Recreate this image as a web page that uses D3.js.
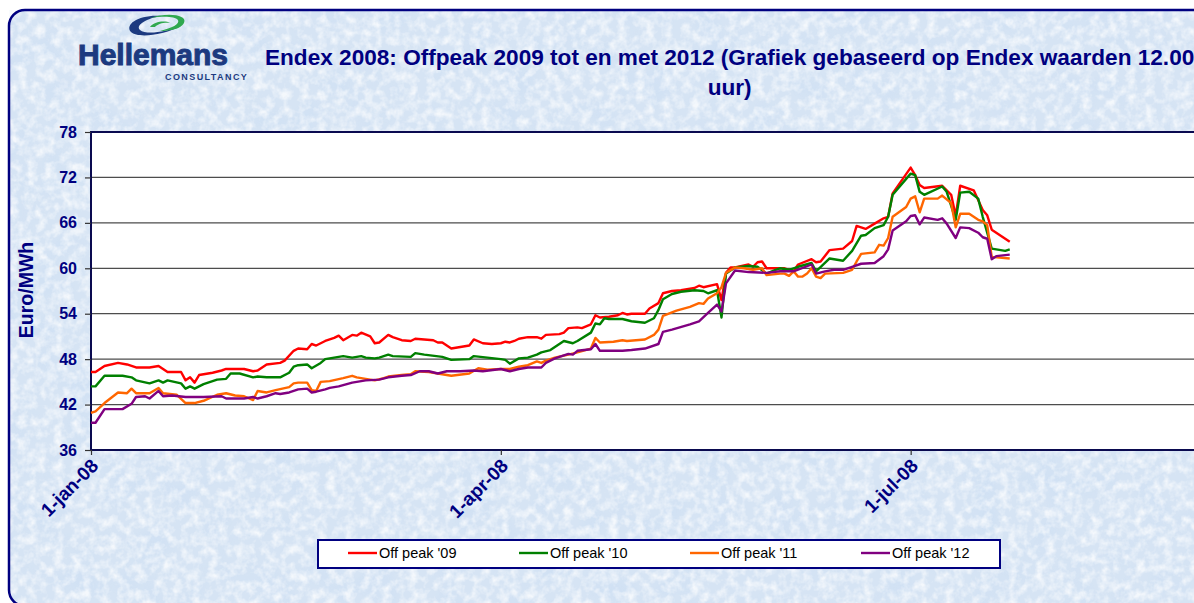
<!DOCTYPE html>
<html>
<head>
<meta charset="utf-8">
<script src="https://cdn.jsdelivr.net/npm/d3@7.9.0/dist/d3.min.js"></script>
<style>
  html, body { margin: 0; padding: 0; background: #fff; overflow: hidden; }
  svg { display: block; font-family: Arial, "Liberation Sans", sans-serif; }
</style>
</head>
<body>
<svg id="chart" width="1194" height="603"></svg>
<script>
// --- data ---
const offpeak09 = [["01-01",46.3],["01-02",46.3],["01-04",47.1],["01-07",47.5],["01-09",47.3],["01-11",46.9],["01-14",46.9],["01-16",47.1],["01-17",46.7],["01-18",46.3],["01-21",46.3],["01-22",45.2],["01-23",45.6],["01-24",44.9],["01-25",45.9],["01-28",46.2],["01-30",46.5],["01-31",46.7],["02-04",46.7],["02-06",46.4],["02-07",46.5],["02-09",47.3],["02-12",47.5],["02-13",47.8],["02-15",49.1],["02-16",49.4],["02-18",49.3],["02-19",50.0],["02-20",49.8],["02-22",50.4],["02-24",50.8],["02-25",51.1],["02-26",50.5],["02-28",51.2],["02-29",51.1],["03-01",51.5],["03-03",51.0],["03-04",50.1],["03-05",50.2],["03-07",51.2],["03-08",50.9],["03-10",50.5],["03-12",50.4],["03-13",50.7],["03-17",50.5],["03-18",50.2],["03-19",50.2],["03-21",49.4],["03-25",49.8],["03-26",50.6],["03-28",50.1],["03-30",50.0],["04-01",50.1],["04-02",50.3],["04-03",50.2],["04-04",50.4],["04-05",50.7],["04-07",50.9],["04-09",50.9],["04-10",50.7],["04-11",51.2],["04-14",51.3],["04-15",51.5],["04-16",52.1],["04-18",52.2],["04-19",52.1],["04-21",52.6],["04-22",53.8],["04-23",53.5],["04-25",53.6],["04-27",53.8],["04-28",54.1],["04-29",53.9],["04-30",54.0],["05-03",54.0],["05-04",54.7],["05-06",55.4],["05-07",56.7],["05-09",57.0],["05-11",57.1],["05-14",57.4],["05-15",57.7],["05-16",57.5],["05-19",57.9],["05-20",55.8],["05-21",59.4],["05-22",60.1],["05-23",60.1],["05-26",60.5],["05-27",60.2],["05-28",60.8],["05-29",60.9],["05-30",60.0],["06-03",60.0],["06-05",59.6],["06-06",60.5],["06-09",61.2],["06-10",60.8],["06-11",60.9],["06-13",62.4],["06-16",62.6],["06-18",63.6],["06-19",65.6],["06-21",65.2],["06-23",65.9],["06-25",66.6],["06-26",66.8],["06-27",69.9],["07-01",73.3],["07-02",72.3],["07-03",71.0],["07-04",70.6],["07-08",70.9],["07-10",69.7],["07-11",66.9],["07-12",70.9],["07-15",70.3],["07-17",67.7],["07-18",67.0],["07-19",65.1],["07-23",63.5]];

const offpeak10 = [["01-01",44.4],["01-02",44.4],["01-04",45.8],["01-08",45.8],["01-10",45.6],["01-11",45.2],["01-14",44.8],["01-16",45.2],["01-17",44.9],["01-18",45.2],["01-21",44.8],["01-22",44.1],["01-23",44.4],["01-24",44.1],["01-26",44.7],["01-29",45.3],["01-31",45.4],["02-01",46.1],["02-03",46.1],["02-06",45.6],["02-07",45.7],["02-09",45.6],["02-12",45.6],["02-14",46.2],["02-15",47.0],["02-16",47.2],["02-18",47.3],["02-19",46.8],["02-21",47.5],["02-22",48.0],["02-24",48.2],["02-26",48.4],["02-28",48.2],["03-01",48.4],["03-02",48.2],["03-04",48.1],["03-05",48.2],["03-07",48.6],["03-08",48.4],["03-12",48.3],["03-13",48.8],["03-15",48.6],["03-19",48.3],["03-21",47.9],["03-25",48.0],["03-26",48.4],["03-29",48.2],["04-01",48.0],["04-02",47.9],["04-03",47.4],["04-05",48.1],["04-07",48.2],["04-09",48.6],["04-10",48.9],["04-12",49.2],["04-15",50.4],["04-17",50.1],["04-18",50.4],["04-21",51.5],["04-22",52.7],["04-23",52.6],["04-24",53.4],["04-25",53.3],["04-28",53.3],["04-30",53.0],["05-03",52.8],["05-05",53.4],["05-06",54.5],["05-07",55.9],["05-09",56.6],["05-11",56.9],["05-14",57.1],["05-16",57.0],["05-17",56.7],["05-19",57.1],["05-20",53.5],["05-21",59.3],["05-23",60.1],["05-26",60.3],["05-28",60.2],["05-30",59.3],["06-01",59.8],["06-02",60.0],["06-04",59.8],["06-06",60.2],["06-09",60.7],["06-10",59.6],["06-13",61.3],["06-16",61.0],["06-18",62.3],["06-20",64.3],["06-21",64.4],["06-23",65.3],["06-25",65.7],["06-26",66.8],["06-27",69.7],["07-01",72.5],["07-02",72.3],["07-03",70.1],["07-04",69.7],["07-08",70.8],["07-09",70.1],["07-11",66.4],["07-12",70.0],["07-14",70.1],["07-16",69.2],["07-17",66.8],["07-19",62.6],["07-22",62.3],["07-23",62.5]];

const offpeak11 = [["01-01",40.9],["01-02",41.1],["01-04",42.2],["01-07",43.6],["01-09",43.5],["01-10",44.1],["01-11",43.5],["01-14",43.5],["01-16",44.2],["01-17",43.5],["01-20",43.3],["01-22",42.2],["01-24",42.2],["01-26",42.5],["01-29",43.3],["01-31",43.5],["02-02",43.2],["02-04",43.1],["02-06",42.6],["02-07",43.8],["02-09",43.6],["02-11",43.9],["02-14",44.3],["02-15",44.8],["02-16",44.9],["02-18",44.9],["02-19",43.9],["02-20",43.8],["02-21",45.0],["02-23",45.1],["02-26",45.5],["02-28",45.8],["02-29",45.6],["03-04",45.2],["03-06",45.5],["03-07",45.7],["03-10",45.9],["03-12",46.0],["03-13",46.4],["03-16",46.3],["03-19",46.0],["03-21",45.8],["03-25",46.1],["03-27",46.8],["03-29",46.6],["04-01",46.7],["04-03",46.7],["04-05",47.0],["04-07",47.2],["04-09",47.7],["04-10",47.5],["04-11",47.8],["04-13",48.2],["04-16",48.6],["04-18",48.9],["04-21",49.4],["04-22",50.8],["04-23",50.2],["04-26",50.3],["04-28",50.5],["04-29",50.4],["05-03",50.6],["05-05",51.2],["05-06",51.9],["05-07",53.7],["05-10",54.4],["05-13",54.9],["05-15",55.4],["05-16",55.3],["05-17",56.0],["05-19",56.7],["05-20",57.5],["05-21",59.4],["05-23",60.1],["05-25",60.0],["05-27",59.8],["05-29",60.0],["05-30",59.1],["06-02",59.3],["06-03",59.3],["06-04",59.0],["06-05",59.6],["06-06",58.9],["06-07",58.9],["06-08",59.3],["06-09",60.0],["06-10",58.9],["06-11",58.7],["06-12",59.3],["06-16",59.4],["06-18",59.8],["06-19",60.9],["06-20",61.9],["06-23",62.1],["06-24",63.1],["06-25",63.0],["06-26",64.0],["06-27",66.8],["06-30",68.1],["07-01",69.2],["07-02",69.5],["07-03",67.4],["07-04",69.2],["07-07",69.2],["07-08",69.6],["07-10",68.6],["07-11",65.4],["07-12",67.2],["07-14",67.2],["07-16",66.4],["07-17",66.2],["07-18",65.7],["07-19",61.5],["07-23",61.3]];

const offpeak12 = [["01-01",39.6],["01-02",39.6],["01-04",41.4],["01-08",41.4],["01-10",42.1],["01-11",43.0],["01-13",43.1],["01-14",42.8],["01-16",43.8],["01-17",43.1],["01-19",43.2],["01-22",43.0],["01-26",43.0],["01-30",43.1],["01-31",42.8],["02-04",42.8],["02-06",43.0],["02-07",42.8],["02-09",43.1],["02-11",43.5],["02-12",43.4],["02-14",43.6],["02-15",43.8],["02-16",44.0],["02-18",44.1],["02-19",43.6],["02-20",43.7],["02-22",44.0],["02-23",44.2],["02-25",44.4],["02-28",44.9],["02-29",45.0],["03-02",45.2],["03-05",45.3],["03-07",45.6],["03-10",45.8],["03-12",45.9],["03-14",46.4],["03-16",46.4],["03-18",46.1],["03-20",46.4],["03-23",46.4],["03-26",46.5],["03-28",46.4],["04-01",46.7],["04-03",46.4],["04-05",46.7],["04-07",46.9],["04-10",46.9],["04-11",47.5],["04-13",48.1],["04-16",48.7],["04-17",48.6],["04-18",49.1],["04-21",49.3],["04-22",50.0],["04-23",49.1],["04-26",49.1],["04-28",49.1],["04-30",49.2],["05-03",49.4],["05-06",50.0],["05-07",51.6],["05-09",51.9],["05-13",52.6],["05-15",53.0],["05-17",54.1],["05-19",55.2],["05-20",54.3],["05-21",58.0],["05-23",59.7],["05-26",59.5],["05-30",59.4],["06-02",59.6],["06-05",59.6],["06-09",60.5],["06-10",59.3],["06-12",59.6],["06-14",59.8],["06-16",59.8],["06-18",60.2],["06-20",60.6],["06-23",60.7],["06-25",61.6],["06-26",62.5],["06-27",65.0],["06-30",66.2],["07-01",66.9],["07-02",67.0],["07-03",65.8],["07-04",66.7],["07-07",66.4],["07-08",66.6],["07-09",65.9],["07-11",64.0],["07-12",65.4],["07-14",65.3],["07-16",64.7],["07-17",64.1],["07-18",63.9],["07-19",61.2],["07-20",61.6],["07-23",61.8]];

const seriesNames = ["Off peak '09", "Off peak '10", "Off peak '11", "Off peak '12"];
const seriesColors = ["#ff0000", "#008000", "#ff6600", "#800080"];
const yTicks = [36, 42, 48, 54, 60, 66, 72, 78];
const xTickDates = ["2008-01-01", "2008-04-01", "2008-07-01"];
const xTickLabels = ["1-jan-08", "1-apr-08", "1-jul-08"];
const titleLines = ["Endex 2008: Offpeak 2009 tot en met 2012 (Grafiek gebaseerd op Endex waarden 12.00", "uur)"];
const yTitle = "Euro/MWh";

// --- setup ---
const parseDate = d3.timeParse("%Y-%m-%d");
const navy = "#000080";
const svg = d3.select("#chart");

// the chart is wider than the window: its right part is cut off, as in the picture
const plot = { left: 91, top: 132, right: 1325, bottom: 450 };

const x = d3.scaleTime()
  .domain([parseDate("2008-01-01"), parseDate("2008-10-01")])
  .range([plot.left, plot.right]);

const y = d3.scaleLinear()
  .domain([36, 78])
  .range([plot.bottom, plot.top]);

// background texture
const defs = svg.append("defs");
const tex = defs.append("filter").attr("id", "tex")
  .attr("x", 0).attr("y", 0).attr("width", "100%").attr("height", "100%");
tex.append("feTurbulence")
  .attr("type", "fractalNoise").attr("baseFrequency", "0.11").attr("numOctaves", 3).attr("seed", 4);
tex.append("feColorMatrix").attr("type", "matrix")
  .attr("values", "0 0 0 0 1  0 0 0 0 1  0 0 0 0 1  2.2 0 0 0 -0.85");

const tex2 = defs.append("filter").attr("id", "tex2")
  .attr("x", 0).attr("y", 0).attr("width", "100%").attr("height", "100%");
tex2.append("feTurbulence")
  .attr("type", "fractalNoise").attr("baseFrequency", "0.03").attr("numOctaves", 2).attr("seed", 11);
tex2.append("feColorMatrix").attr("type", "matrix")
  .attr("values", "0 0 0 0 0.55  0 0 0 0 0.7  0 0 0 0 0.9  1.6 0 0 0 -0.75");

const frameBox = { x: 9, y: 10, width: 1400, height: 596, rx: 16 };
const frame = svg.append("g");
["#d6e4f4", "url(#tex2)", "url(#tex)"].forEach((f, i) => {
  const r = frame.append("rect")
    .attr("x", frameBox.x).attr("y", frameBox.y)
    .attr("width", frameBox.width).attr("height", frameBox.height).attr("rx", frameBox.rx);
  if (i === 0) r.attr("fill", f);
  else r.attr("fill", "#fff").attr("filter", f).attr("opacity", i === 1 ? 0.45 : 0.75);
});
frame.append("rect")
  .attr("x", frameBox.x).attr("y", frameBox.y)
  .attr("width", frameBox.width).attr("height", frameBox.height).attr("rx", frameBox.rx)
  .attr("fill", "none").attr("stroke", navy).attr("stroke-width", 2.5);

// logo
const logo = svg.append("g");
logo.append("path")
  .attr("d", "M162 16 C140 14 124 24 131 32 C137 38 162 36 181 26 C166 32 146 35 140 30 C135 25 147 18 162 16 Z")
  .attr("fill", "#1c3a80");
logo.append("path")
  .attr("d", "M150 18 C168 12 188 15 184 23 C181 29 170 31 160 31 C172 28 180 24 178 20 C175 16 162 16 150 18 Z")
  .attr("fill", "#2fa84f");
logo.append("path")
  .attr("d", "M150 27 C153 22 165 20 170 23 C166 22 158 23 155 27 Z")
  .attr("fill", "#2fa84f");
logo.append("text")
  .attr("x", 78).attr("y", 65)
  .attr("font-size", 30).attr("font-weight", "bold")
  .attr("fill", "#1c3a80").attr("stroke", "#1c3a80").attr("stroke-width", 1)
  .attr("textLength", 150)
  .text("Hellemans");
logo.append("text")
  .attr("x", 165).attr("y", 80)
  .attr("font-size", 9).attr("font-weight", "bold")
  .attr("fill", "#1c3a80").attr("letter-spacing", 1.2)
  .attr("textLength", 83)
  .text("CONSULTANCY");

// title
const titleSize = 22.6;
const t1 = svg.append("text")
  .attr("x", 265).attr("y", 65)
  .attr("font-size", titleSize).attr("font-weight", "bold").attr("fill", navy)
  .text(titleLines[0]);
const titleW = t1.node().getComputedTextLength();
svg.append("text")
  .attr("x", 265 + titleW / 2).attr("y", 95)
  .attr("text-anchor", "middle")
  .attr("font-size", titleSize).attr("font-weight", "bold").attr("fill", navy)
  .text(titleLines[1]);

// plot area
svg.append("rect")
  .attr("x", plot.left).attr("y", plot.top)
  .attr("width", plot.right - plot.left).attr("height", plot.bottom - plot.top)
  .attr("fill", "#fff");

// grid lines
svg.append("g")
  .selectAll("line")
  .data(yTicks.slice(1, -1))
  .join("line")
  .attr("x1", plot.left).attr("x2", plot.right)
  .attr("y1", d => y(d)).attr("y2", d => y(d))
  .attr("stroke", "#4d4d4d").attr("stroke-width", 1.3);

// plot border
svg.append("rect")
  .attr("x", plot.left).attr("y", plot.top)
  .attr("width", plot.right - plot.left).attr("height", plot.bottom - plot.top)
  .attr("fill", "none").attr("stroke", "#0a0a50").attr("stroke-width", 2);

// y axis
const yAxis = svg.append("g")
  .attr("transform", `translate(${plot.left},0)`)
  .call(d3.axisLeft(y).tickValues(yTicks).tickSize(6).tickPadding(8));
yAxis.select(".domain").remove();
yAxis.selectAll(".tick line").attr("stroke", "#333").attr("stroke-width", 1.2);
yAxis.selectAll(".tick text")
  .attr("font-size", 16).attr("font-weight", "bold").attr("fill", navy)
  .attr("font-family", "Arial, 'Liberation Sans', sans-serif");

svg.append("text")
  .attr("transform", "translate(33,290) rotate(-90)")
  .attr("text-anchor", "middle")
  .attr("font-size", 19.5).attr("font-weight", "bold").attr("fill", navy)
  .text(yTitle);

// x axis
const xDates = xTickDates.map(parseDate);
const xAxis = svg.append("g")
  .attr("transform", `translate(0,${plot.bottom})`)
  .call(d3.axisBottom(x).tickValues(xDates).tickSize(5).tickFormat((d, i) => xTickLabels[i]));
xAxis.select(".domain").remove();
xAxis.selectAll(".tick line").attr("stroke", "#333").attr("stroke-width", 1.2);
xAxis.selectAll(".tick text")
  .attr("font-size", 19).attr("font-weight", "bold").attr("fill", navy)
  .attr("font-family", "Arial, 'Liberation Sans', sans-serif")
  .attr("text-anchor", "end")
  .attr("dy", 0)
  .attr("y", 0)
  .attr("transform", "translate(8,17) rotate(-45)");

// lines
const allSeries = [offpeak09, offpeak10, offpeak11, offpeak12];
const line = d3.line()
  .x(d => x(parseDate("2008-" + d[0])))
  .y(d => y(d[1]));

svg.append("g")
  .selectAll("path")
  .data(allSeries)
  .join("path")
  .attr("d", line)
  .attr("fill", "none")
  .attr("stroke", (d, i) => seriesColors[i])
  .attr("stroke-width", 2.4)
  .attr("stroke-linejoin", "round");

// legend
const legend = svg.append("g");
legend.append("rect")
  .attr("x", 318).attr("y", 540).attr("width", 682).attr("height", 28)
  .attr("fill", "#fff").attr("stroke", navy).attr("stroke-width", 2);

const items = legend.selectAll("g.item")
  .data(seriesNames)
  .join("g")
  .attr("class", "item")
  .attr("transform", (d, i) => `translate(${348 + i * 171},553)`);
items.append("line")
  .attr("x1", 0).attr("x2", 29)
  .attr("stroke", (d, i) => seriesColors[i]).attr("stroke-width", 2.4);
items.append("text")
  .attr("x", 31).attr("y", 5)
  .attr("font-size", 14.5).attr("fill", "#000")
  .text(d => d);
</script>
</body>
</html>
